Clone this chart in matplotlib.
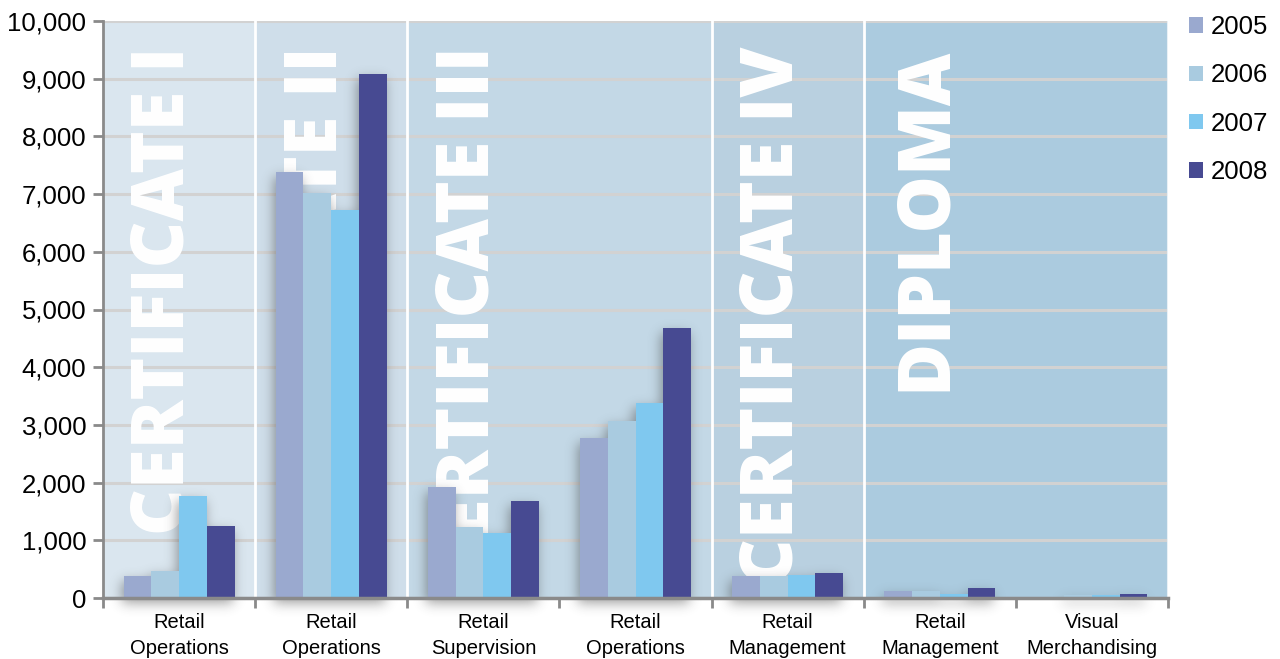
import numpy as np
import matplotlib
matplotlib.use("Agg")
import matplotlib.pyplot as plt

# enrolments by qualification and year
years = ["2005", "2006", "2007", "2008"]
courses = ["Retail\nOperations", "Retail\nOperations", "Retail\nSupervision",
           "Retail\nOperations", "Retail\nManagement", "Retail\nManagement",
           "Visual\nMerchandising"]
values_2005 = [380, 7380, 1930, 2780, 380, 120, 0]
values_2006 = [470, 7020, 1230, 3070, 380, 120, 50]
values_2007 = [1770, 6720, 1130, 3380, 390, 70, 60]
values_2008 = [1240, 9080, 1680, 4680, 430, 170, 70]
series = [values_2005, values_2006, values_2007, values_2008]

# qualification levels: first course index and number of courses
levels = ["CERTIFICATE I", "CERTIFICATE II", "CERTIFICATE III",
          "CERTIFICATE IV", "DIPLOMA"]
level_start = [0, 1, 2, 4, 5]
level_count = [1, 1, 2, 1, 2]

bar_colors = ["#9aa9cf", "#a9cbe0", "#7fc8ef", "#474a92"]
band_colors = ["#dae6ef", "#cfdeea", "#c3d8e6", "#b9d0e0", "#abcbdf"]

plt.rcParams["font.family"] = ["Liberation Sans", "DejaVu Sans"]

fig = plt.figure(figsize=(12.8, 6.59), dpi=100)
ax = fig.add_axes([103 / 1280, 61 / 659, 1065 / 1280, 577 / 659])

n = len(courses)
x = np.arange(n)
width = 0.73 / len(years)
ax.set_xlim(-0.5, n - 0.5)
ax.set_ylim(0, 10000)

# shaded band per qualification level with its name written upright
for name, s, c, col in zip(levels, level_start, level_count, band_colors):
    left = s - 0.5
    ax.axvspan(left, left + c, color=col, lw=0, zorder=0.5)
    ax.text(left + 0.17, 9560, name, rotation=90, ha="left", va="top",
            color="white", fontsize=52, fontweight="heavy",
            family="Open Sans", zorder=2, clip_on=True)
for s in level_start[1:]:
    ax.axvline(s - 0.5, color="white", lw=2, zorder=1.8)
ax.axvline(n - 0.5, color="#e8f0f6", lw=1.5, zorder=1.8)

ax.yaxis.grid(True, color="#d2d2d2", lw=2.2, zorder=1.5)
ax.set_axisbelow(True)

rects = []
for i, (yr, vals, col) in enumerate(zip(years, series, bar_colors)):
    bars = ax.bar(x + (i - 1.5) * width, vals, width, color=col, label=yr,
                  zorder=4, lw=0)
    rects.extend(bars.patches)


def bar_shadow(ax, rects, blur=6.0, dx=-2, dy=-5, alpha=0.5, pad=40):
    # soft drop shadow rendered in pixel space underneath the bars
    bx0, by0, bx1, by1 = ax.bbox.extents
    X0, Y0 = bx0 - pad, by0 - pad
    W, H = int(bx1 - bx0 + 2 * pad), int(by1 - by0 + 2 * pad)
    mask = np.zeros((H, W))
    for r in rects:
        if r.get_height() <= 0:
            continue
        p0 = ax.transData.transform((r.get_x(), 0))
        p1 = ax.transData.transform((r.get_x() + r.get_width(), r.get_height()))
        c0, c1 = int(round(p0[0] + dx - X0)), int(round(p1[0] + dx - X0))
        r0, r1 = int(round(p0[1] + dy - Y0)), int(round(p1[1] + dy - Y0))
        mask[max(r0, 0):r1, c0:c1] = 1
    k = np.exp(-0.5 * (np.arange(-3 * blur, 3 * blur + 1) / blur) ** 2)
    k /= k.sum()
    mask = np.apply_along_axis(lambda m: np.convolve(m, k, "same"), 0, mask)
    mask = np.apply_along_axis(lambda m: np.convolve(m, k, "same"), 1, mask)
    rgba = np.zeros((H, W, 4))
    rgba[..., :3] = 0.25
    rgba[..., 3] = mask * alpha
    inv = ax.transData.inverted()
    e0 = inv.transform((X0, Y0))
    e1 = inv.transform((X0 + W, Y0 + H))
    ax.imshow(rgba, origin="lower", extent=(e0[0], e1[0], e0[1], e1[1]),
              aspect="auto", interpolation="bilinear", zorder=3, clip_on=False)


bar_shadow(ax, rects)
ax.set_xlim(-0.5, n - 0.5)
ax.set_ylim(0, 10000)

# axes, ticks and labels
for side in ("top", "right"):
    ax.spines[side].set_visible(False)
ax.spines["left"].set_color("#8a8a8a")
ax.spines["left"].set_linewidth(2)
ax.spines["bottom"].set_color("#8a8a8a")
ax.spines["bottom"].set_linewidth(2.5)
ax.spines["left"].set_zorder(5)
ax.spines["bottom"].set_zorder(5)

ax.set_yticks(np.arange(0, 10001, 1000))
ax.set_yticklabels([f"{v:,}" for v in range(0, 10001, 1000)], fontsize=18.5)
ax.tick_params(axis="y", length=7, width=2, color="#8a8a8a", pad=5)

ax.set_xticks(x)
ax.set_xticklabels(courses, fontsize=14.5, linespacing=1.45)
ax.set_xticks(np.arange(-0.5, n), minor=True)
ax.tick_params(axis="x", which="major", length=0, pad=11)
ax.tick_params(axis="x", which="minor", length=7, width=2, color="#8a8a8a")

leg = fig.legend(loc="upper left", bbox_to_anchor=(1189 / 1280, 1 - 15 / 659),
                 frameon=False, fontsize=18.5, handlelength=0.55,
                 handleheight=0.55, handletextpad=0.3, labelspacing=0.95,
                 borderpad=0, borderaxespad=0)

fig.savefig("out.png", dpi=100)
